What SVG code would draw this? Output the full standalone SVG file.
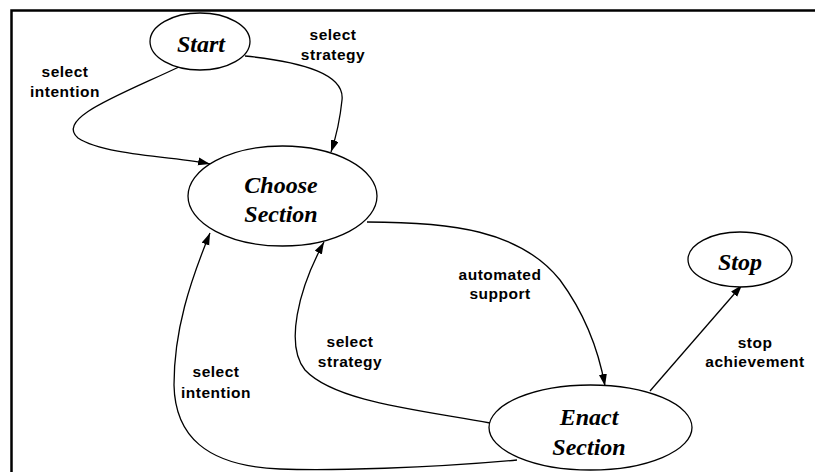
<svg xmlns="http://www.w3.org/2000/svg" width="815" height="472" viewBox="0 0 815 472">
<style>
.node ellipse{fill:#fff;stroke:#000;stroke-width:1.3}
.nt{font-family:"Liberation Serif","Times New Roman",serif;font-weight:bold;font-style:italic;font-size:24px;text-anchor:middle;fill:#000}
.lbl{font-family:"Liberation Sans",Arial,sans-serif;font-weight:bold;font-size:15.5px;letter-spacing:0.5px;text-anchor:middle;fill:#000}
.edge{fill:none;stroke:#000;stroke-width:1.3;marker-end:url(#arr)}
</style>
<defs>
<marker id="arr" markerUnits="userSpaceOnUse" markerWidth="13" markerHeight="9" refX="12" refY="4" orient="auto">
<path d="M0,0 L12,4 L0,8 z" fill="#000"/>
</marker>
</defs>
<rect width="815" height="472" fill="#fff"/>
<path d="M11.5,472 L11.5,10.5 L815,10.5" fill="none" stroke="#000" stroke-width="2.5"/>
<g id="connectors">
<path class="edge" d="M181,66 C120,95 55,118 78,138 C105,156 180,157 210,164"/>
<path class="edge" d="M245,56 C305,62 345,75 342,100 C340,120 336,137 331,152"/>
<path class="edge" d="M367,222 C450,222 520,230 560,280 C588,318 600,358 605,386"/>
<path class="edge" d="M490,423 C420,410 335,402 305,370 C285,345 298,290 324,242"/>
<path class="edge" d="M517,460 C430,468 330,471 280,469 C205,466 175,435 174,385 C174,330 190,282 210,233"/>
<path class="edge" d="M650,391 L742,285"/>
</g>
<g id="labels">
<text class="lbl" x="65" y="77">select</text>
<text class="lbl" x="65" y="97">intention</text>
<text class="lbl" x="333" y="40">select</text>
<text class="lbl" x="333" y="60">strategy</text>
<text class="lbl" x="500" y="280">automated</text>
<text class="lbl" x="500" y="299">support</text>
<text class="lbl" x="755" y="348">stop</text>
<text class="lbl" x="755" y="367">achievement</text>
<text class="lbl" x="350" y="347">select</text>
<text class="lbl" x="350" y="367">strategy</text>
<text class="lbl" x="216" y="377">select</text>
<text class="lbl" x="216" y="398">intention</text>
</g>
<g id="start" class="node">
<ellipse cx="200" cy="41.5" rx="50" ry="28.5"/>
<text class="nt" x="201" y="52">Start</text>
</g>
<g id="choose" class="node">
<ellipse cx="282.5" cy="196" rx="94.5" ry="50"/>
<text class="nt" x="281" y="193">Choose</text>
<text class="nt" x="281" y="222">Section</text>
</g>
<g id="stop" class="node">
<ellipse cx="740" cy="259.5" rx="52" ry="27.5"/>
<text class="nt" x="740" y="270">Stop</text>
</g>
<g id="enact" class="node">
<ellipse cx="590.5" cy="427.5" rx="101.5" ry="42.5"/>
<text class="nt" x="589" y="425">Enact</text>
<text class="nt" x="589" y="455">Section</text>
</g>
</svg>
